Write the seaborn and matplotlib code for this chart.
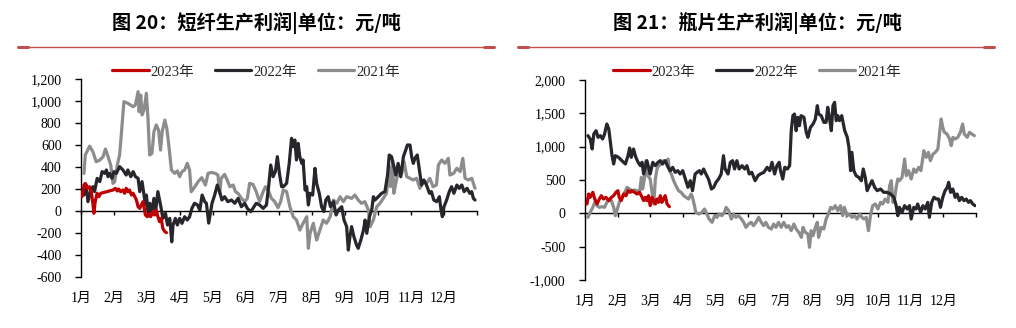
import numpy as np
import pandas as pd
import matplotlib
matplotlib.use("Agg")
import matplotlib.pyplot as plt
from matplotlib.lines import Line2D
from matplotlib.ticker import FuncFormatter
import seaborn as sns

# ---- data: (month position within the year, profit in 元/吨) ----
month_labels = ["1月", "2月", "3月", "4月", "5月", "6月",
                "7月", "8月", "9月", "10月", "11月", "12月"]
years = ["2023年", "2022年", "2021年"]
colors = {"2023年": "#C00000", "2022年": "#26262B", "2021年": "#8C8C8C"}

# 短纤 (polyester staple fibre) production profit
psf_2023 = [(0.03, 130), (0.09, 236), (0.13, 251), (0.19, 206), (0.26, 221), (0.31, 176),
            (0.36, 70), (0.39, -21), (0.43, 85), (0.49, 161), (0.54, 130), (0.60, 161),
            (0.97, 191), (1.04, 206), (1.10, 182), (1.14, 200), (1.20, 176), (1.27, 191),
            (1.32, 161), (1.37, 206), (1.42, 176), (1.47, 191), (1.53, 145), (1.58, 161),
            (1.63, 130), (1.68, 100), (1.73, 39), (1.78, 24), (1.83, 55), (1.88, 85),
            (1.91, 39), (1.95, -36), (2.01, -52), (2.06, -21), (2.11, -52), (2.18, -6),
            (2.23, -36), (2.28, 9), (2.33, -52), (2.38, -97), (2.43, -67), (2.48, -158),
            (2.54, -188), (2.59, -197)]

psf_2022 = [(0.09, 145), (0.16, 236), (0.21, 85), (0.29, 176), (0.36, 221), (0.41, 176),
            (0.49, 297), (0.57, 267), (0.64, 358), (0.72, 342), (0.77, 373), (0.82, 312),
            (0.87, 342), (0.94, 297), (1.00, 358), (1.07, 342), (1.17, 403), (1.27, 373),
            (1.37, 327), (1.42, 373), (1.51, 312), (1.58, 358), (1.65, 312), (1.73, 297),
            (1.78, 176), (1.85, 267), (1.91, 145), (1.95, 55), (1.98, 145), (2.03, 9),
            (2.08, 70), (2.13, -21), (2.21, 115), (2.26, -6), (2.33, 176), (2.38, 100),
            (2.43, 24), (2.48, -67), (2.56, -21), (2.62, -127), (2.69, -67), (2.75, -280),
            (2.79, -127), (2.86, -67), (2.92, -127), (2.99, -67), (3.06, -112), (3.14, -52),
            (3.22, -82), (3.29, -52), (3.36, 24), (3.44, 70), (3.53, 55), (3.60, 9),
            (3.67, 145), (3.75, 85), (3.80, 70), (3.87, -110), (3.97, 70), (4.05, 145),
            (4.13, 236), (4.20, 176), (4.27, 100), (4.35, 130), (4.45, 85), (4.56, 100),
            (4.66, 70), (4.76, 115), (4.86, 39), (4.96, 70), (5.04, 24), (5.14, -6),
            (5.21, 24), (5.31, 70), (5.41, 55), (5.52, 24), (5.62, 55), (5.69, 236),
            (5.75, 418), (5.82, 312), (5.89, 358), (5.95, 494), (6.02, 327), (6.08, 221),
            (6.13, 221), (6.23, 251), (6.31, 433), (6.38, 661), (6.43, 585), (6.48, 645),
            (6.53, 464), (6.58, 615), (6.63, 494), (6.69, 433), (6.73, 464), (6.79, 191),
            (6.84, 221), (6.89, 55), (6.94, 161), (7.02, 145), (7.09, 388), (7.14, 251),
            (7.22, 161), (7.29, 39), (7.36, -6), (7.42, 100), (7.49, 130), (7.56, 39),
            (7.65, 85), (7.73, -36), (7.80, 9), (7.90, 39), (7.97, -82), (8.05, -142),
            (8.10, -355), (8.15, -233), (8.20, -142), (8.27, -233), (8.35, -309), (8.40, -339),
            (8.48, -264), (8.56, -173), (8.61, -82), (8.66, -203), (8.74, -52), (8.81, 9),
            (8.86, 130), (8.91, 100), (9.01, 130), (9.11, 161), (9.21, 176), (9.29, 327),
            (9.34, 509), (9.41, 494), (9.48, 403), (9.54, 327), (9.61, 433), (9.69, 312),
            (9.77, 494), (9.84, 554), (9.89, 600), (9.97, 600), (10.02, 494), (10.07, 433),
            (10.12, 479), (10.19, 509), (10.27, 342), (10.32, 236), (10.39, 282), (10.47, 236),
            (10.56, 161), (10.62, 176), (10.69, 100), (10.78, 85), (10.86, 130), (10.91, 9),
            (10.95, -52), (11.00, 39), (11.08, 100), (11.16, 176), (11.23, 221), (11.30, 161),
            (11.39, 236), (11.46, 206), (11.54, 236), (11.61, 176), (11.70, 206), (11.78, 161),
            (11.84, 176), (11.89, 115), (11.94, 100)]

psf_2021 = [(0.09, 342), (0.13, 509), (0.26, 590), (0.36, 539), (0.46, 448), (0.57, 463),
            (0.67, 494), (0.74, 563), (0.82, 494), (0.90, 418), (0.97, 251), (1.02, 266),
            (1.10, 418), (1.17, 509), (1.22, 690), (1.30, 994), (1.42, 979), (1.58, 948),
            (1.65, 964), (1.73, 1085), (1.76, 903), (1.81, 1054), (1.85, 873), (1.91, 918),
            (1.98, 1070), (2.03, 842), (2.08, 509), (2.15, 524), (2.21, 721), (2.28, 782),
            (2.35, 736), (2.41, 554), (2.46, 721), (2.54, 827), (2.60, 751), (2.66, 600),
            (2.74, 373), (2.84, 342), (2.92, 364), (2.99, 312), (3.06, 358), (3.14, 373),
            (3.22, 433), (3.29, 373), (3.34, 176), (3.42, 206), (3.55, 267), (3.66, 303),
            (3.77, 236), (3.85, 342), (3.95, 351), (4.07, 342), (4.15, 327), (4.20, 160),
            (4.25, 297), (4.35, 333), (4.43, 282), (4.51, 221), (4.61, 236), (4.68, 176),
            (4.76, 160), (4.86, 115), (4.96, 85), (5.04, 115), (5.11, 251), (5.21, 242),
            (5.31, 176), (5.41, 85), (5.52, 176), (5.59, 221), (5.69, 176), (5.77, 115),
            (5.87, 85), (5.97, 30), (6.05, 85), (6.13, 191), (6.23, 176), (6.33, 39),
            (6.43, -52), (6.53, -82), (6.63, -173), (6.73, -112), (6.84, -52), (6.89, -339),
            (6.94, -203), (7.04, -112), (7.14, -264), (7.24, -173), (7.34, -82), (7.44, -112),
            (7.55, -52), (7.65, 100), (7.75, 70), (7.85, 130), (7.95, 85), (8.05, 130),
            (8.20, 115), (8.30, 145), (8.40, 100), (8.50, 70), (8.60, 85), (8.71, 9),
            (8.76, -142), (8.86, -82), (8.96, 39), (9.06, 70), (9.16, 115), (9.26, 161),
            (9.34, 403), (9.38, 221), (9.44, 464), (9.48, 161), (9.56, 282), (9.64, 388),
            (9.72, 342), (9.79, 448), (9.87, 312), (9.97, 297), (10.07, 282), (10.17, 297),
            (10.27, 206), (10.37, 267), (10.47, 251), (10.57, 297), (10.67, 221), (10.77, 236),
            (10.83, 418), (10.93, 464), (11.03, 433), (11.13, 479), (11.18, 327), (11.29, 342),
            (11.39, 388), (11.49, 358), (11.57, 479), (11.64, 297), (11.74, 282), (11.84, 297),
            (11.94, 206)]

# 瓶片 (PET bottle chip) production profit
bottle_2023 = [(0.06, 140), (0.11, 290), (0.16, 240), (0.24, 315), (0.30, 215), (0.37, 140),
               (0.44, 215), (0.50, 265), (0.57, 215), (0.64, 240), (0.73, 190), (0.81, 240),
               (0.88, 265), (0.95, 315), (1.01, 340), (1.05, 240), (1.11, 190), (1.19, 290),
               (1.26, 265), (1.32, 340), (1.39, 315), (1.44, 340), (1.52, 315), (1.60, 290),
               (1.67, 315), (1.73, 265), (1.80, 190), (1.85, 240), (1.90, 190), (1.95, 265),
               (2.00, 115), (2.06, 240), (2.11, 190), (2.16, 140), (2.21, 215), (2.26, 165),
               (2.31, 265), (2.36, 165), (2.41, 215), (2.46, 265), (2.52, 140), (2.59, 100)]

bottle_2022 = [(0.09, 1165), (0.16, 1115), (0.22, 965), (0.27, 1190), (0.34, 1240), (0.40, 1140),
               (0.47, 1165), (0.54, 1115), (0.60, 1190), (0.67, 1340), (0.73, 1265), (0.78, 1065),
               (0.83, 865), (0.88, 740), (0.93, 865), (1.03, 840), (1.13, 790), (1.24, 740),
               (1.32, 865), (1.37, 980), (1.42, 840), (1.49, 965), (1.56, 840), (1.63, 765),
               (1.70, 715), (1.75, 765), (1.80, 590), (1.85, 690), (1.90, 790), (1.95, 690),
               (2.00, 590), (2.08, 765), (2.16, 715), (2.24, 765), (2.31, 790), (2.38, 740),
               (2.46, 790), (2.55, 690), (2.62, 640), (2.69, 690), (2.77, 615), (2.85, 640),
               (2.92, 590), (3.00, 640), (3.08, 515), (3.16, 390), (3.23, 490), (3.30, 340),
               (3.38, 590), (3.44, 615), (3.51, 640), (3.57, 590), (3.64, 665), (3.71, 590),
               (3.79, 515), (3.88, 365), (3.95, 390), (4.02, 465), (4.10, 515), (4.18, 590),
               (4.25, 865), (4.30, 665), (4.39, 590), (4.46, 765), (4.53, 790), (4.59, 665),
               (4.66, 790), (4.73, 665), (4.82, 715), (4.90, 665), (4.97, 715), (5.04, 590),
               (5.12, 615), (5.22, 490), (5.31, 565), (5.38, 590), (5.49, 615), (5.59, 690),
               (5.67, 640), (5.74, 765), (5.82, 590), (5.89, 715), (5.96, 765), (6.00, 640),
               (6.07, 515), (6.13, 690), (6.21, 665), (6.28, 715), (6.33, 1240), (6.38, 1465),
               (6.43, 1490), (6.48, 1240), (6.53, 1440), (6.58, 1315), (6.63, 1465), (6.72, 1440),
               (6.79, 1215), (6.84, 1140), (6.92, 1290), (7.00, 1340), (7.07, 1415), (7.13, 1615),
               (7.17, 1490), (7.25, 1465), (7.33, 1365), (7.40, 1365), (7.45, 1590), (7.50, 1440),
               (7.56, 1240), (7.61, 1615), (7.66, 1665), (7.71, 1390), (7.76, 1465), (7.81, 1390),
               (7.88, 1465), (7.97, 1240), (8.05, 1140), (8.10, 990), (8.15, 640), (8.19, 915),
               (8.25, 640), (8.32, 565), (8.40, 540), (8.48, 490), (8.54, 665), (8.60, 540),
               (8.66, 340), (8.73, 415), (8.81, 490), (8.89, 390), (8.97, 340), (9.07, 365),
               (9.17, 315), (9.27, 315), (9.38, 290), (9.48, 240), (9.55, 115), (9.60, -35),
               (9.65, 90), (9.73, 15), (9.81, 115), (9.89, 65), (9.96, 115), (10.01, -85),
               (10.09, 90), (10.16, 65), (10.21, 140), (10.30, 15), (10.37, 115), (10.44, 65),
               (10.52, 165), (10.57, -60), (10.64, 165), (10.71, 240), (10.78, 215), (10.85, 215),
               (10.91, 90), (10.98, 240), (11.05, 340), (11.12, 390), (11.16, 465), (11.22, 315),
               (11.29, 365), (11.36, 240), (11.42, 290), (11.49, 190), (11.56, 240), (11.63, 190),
               (11.70, 215), (11.77, 165), (11.83, 190), (11.90, 140), (11.97, 115)]

bottle_2021 = [(0.09, -60), (0.16, 15), (0.24, 90), (0.32, 190), (0.37, 115), (0.44, 90),
               (0.52, 100), (0.60, 90), (0.67, 165), (0.75, 215), (0.81, 190), (0.88, 90),
               (0.93, -35), (0.98, 40), (1.05, 165), (1.13, 240), (1.22, 315), (1.29, 390),
               (1.36, 365), (1.44, 340), (1.52, 350), (1.60, 340), (1.67, 290), (1.73, 540),
               (1.77, 365), (1.83, 540), (1.87, 790), (1.93, 565), (2.00, 515), (2.05, 340),
               (2.11, 140), (2.16, 515), (2.21, 665), (2.26, 715), (2.34, 740), (2.41, 790),
               (2.48, 765), (2.55, 815), (2.59, 640), (2.65, 590), (2.72, 490), (2.79, 415),
               (2.87, 340), (2.95, 315), (3.03, 265), (3.10, 240), (3.18, 215), (3.26, 290),
               (3.30, 240), (3.36, 115), (3.40, 15), (3.49, -10), (3.59, 15), (3.67, 65),
               (3.74, -10), (3.81, -85), (3.90, -135), (3.98, -35), (4.05, -60), (4.12, -10),
               (4.20, -35), (4.28, 15), (4.33, 90), (4.41, 40), (4.49, -85), (4.56, -10),
               (4.63, -60), (4.71, -35), (4.80, -85), (4.87, -135), (4.94, -210), (5.02, -160),
               (5.10, -135), (5.17, -185), (5.25, -135), (5.33, -60), (5.41, -135), (5.48, -185),
               (5.55, -135), (5.63, -210), (5.72, -235), (5.79, -160), (5.86, -210), (5.94, -135),
               (6.02, -210), (6.10, -135), (6.18, -210), (6.25, -185), (6.33, -260), (6.41, -160),
               (6.48, -235), (6.56, -285), (6.64, -360), (6.69, -210), (6.76, -285), (6.84, -310),
               (6.89, -510), (6.94, -260), (7.00, -335), (7.07, -210), (7.13, -135), (7.17, -360),
               (7.25, -210), (7.33, -235), (7.40, -85), (7.47, -10), (7.54, 90), (7.61, 65),
               (7.68, 115), (7.76, 40), (7.84, 115), (7.91, -35), (7.96, 90), (8.05, -35),
               (8.12, -10), (8.19, -60), (8.27, -35), (8.35, -85), (8.43, -10), (8.50, -60),
               (8.56, -85), (8.63, -60), (8.70, -260), (8.76, -35), (8.83, 115), (8.91, 140),
               (8.99, 65), (9.07, 165), (9.14, 140), (9.21, 215), (9.30, 165), (9.35, 415),
               (9.40, 490), (9.45, 165), (9.50, 215), (9.55, 390), (9.60, 515), (9.65, 490),
               (9.73, 540), (9.81, 815), (9.86, 565), (9.93, 640), (10.01, 515), (10.09, 665),
               (10.16, 615), (10.24, 690), (10.31, 640), (10.40, 940), (10.47, 840), (10.54, 915),
               (10.60, 790), (10.68, 890), (10.75, 915), (10.83, 965), (10.88, 1190), (10.93, 1415),
               (10.98, 1290), (11.03, 1215), (11.11, 1190), (11.19, 1115), (11.24, 1015), (11.29, 1140),
               (11.36, 1115), (11.44, 1140), (11.52, 1215), (11.59, 1340), (11.64, 1190), (11.73, 1140),
               (11.80, 1215), (11.87, 1190), (11.95, 1165)]


def to_frame(series):
    rows = [(year, m, v) for year, pts in series.items() for m, v in pts]
    return pd.DataFrame(rows, columns=["year", "month", "profit"])


sns.set_theme(style="ticks")
plt.rcParams["font.family"] = ["Liberation Serif", "Noto Sans CJK SC", "DejaVu Sans"]
plt.rcParams["axes.unicode_minus"] = False

SERIF = ["Liberation Serif", "Noto Sans CJK SC"]
TITLE_FONT = ["Noto Sans CJK SC", "DejaVu Sans"]

W, H = 1016, 328
fig = plt.figure(figsize=(W / 100, H / 100), dpi=100)


def fx(px):
    return px / W


def fy(py):
    return 1 - py / H


panels = [
    dict(title="图 20：短纤生产利润|单位：元/吨",
         data={"2021年": psf_2021, "2022年": psf_2022, "2023年": psf_2023},
         ylim=(-600, 1200), step=200, box=(81, 79, 477, 277),
         center=256, rule=(18, 494)),
    dict(title="图 21：瓶片生产利润|单位：元/吨",
         data={"2021年": bottle_2021, "2022年": bottle_2022, "2023年": bottle_2023},
         ylim=(-1000, 2000), step=500, box=(585, 80, 976, 280),
         center=757, rule=(518, 994)),
]

for p in panels:
    x0, y0, x1, y1 = p["box"]
    ax = fig.add_axes([fx(x0), fy(y1), fx(x1) - fx(x0), fy(y0) - fy(y1)])
    df = to_frame(p["data"])
    sns.lineplot(data=df, x="month", y="profit", hue="year",
                 hue_order=["2021年", "2022年", "2023年"], palette=colors,
                 estimator=None, sort=False, linewidth=2.3, legend=False,
                 ax=ax, zorder=3)

    lo, hi = p["ylim"]
    ax.set_xlim(0, 12)
    ax.set_ylim(lo, hi)
    ax.set_xlabel("")
    ax.set_ylabel("")
    ax.set_yticks(np.arange(lo, hi + 1, p["step"]))
    ax.yaxis.set_major_formatter(FuncFormatter(lambda v, _: f"{v:,.0f}"))

    for side in ("top", "right"):
        ax.spines[side].set_visible(False)
    ax.spines["left"].set_color("black")
    ax.spines["left"].set_linewidth(1.0)
    ax.spines["bottom"].set_position(("data", 0))
    ax.spines["bottom"].set_color("black")
    ax.spines["bottom"].set_linewidth(1.0)

    ax.set_xticks(range(13))
    ax.tick_params(axis="x", bottom=True, length=3, width=1, color="black",
                   direction="out", labelbottom=False)
    ax.tick_params(axis="y", left=True, length=4, width=1, color="black",
                   direction="out", pad=10, labelsize=10, labelcolor="black")
    for lab in ax.get_yticklabels():
        lab.set_family(SERIF)

    # month names sit along the bottom edge of the panel
    sec = ax.secondary_xaxis("bottom")
    sec.set_xticks(range(12), labels=month_labels)
    sec.tick_params(length=0, pad=11, labelsize=10, labelcolor="black")
    sec.spines["bottom"].set_visible(False)
    for lab in sec.get_xticklabels():
        lab.set_family(SERIF)

    handles = [Line2D([], [], color=colors[y], linewidth=2.3) for y in years]
    fig.legend(handles, years, loc="center", ncol=3, frameon=False,
               bbox_to_anchor=(fx(p["center"]), fy(72)),
               handlelength=2.5, handletextpad=0.15, columnspacing=1.4,
               prop={"family": SERIF, "size": 10.5})

    fig.text(fx(p["center"]), fy(23), p["title"], ha="center", va="center",
             fontsize=13.8, fontweight="bold", family=TITLE_FONT, color="black")

    r0, r1 = p["rule"]
    rule_color = "#C0504D"
    fig.add_artist(Line2D([fx(r0), fx(r1)], [fy(47), fy(47)],
                          transform=fig.transFigure, color=rule_color, linewidth=1.0))
    for a, b in ((r0, r0 + 10), (r1 - 10, r1)):
        fig.add_artist(Line2D([fx(a), fx(b)], [fy(47), fy(47)],
                              transform=fig.transFigure, color=rule_color, linewidth=2.2))

fig.savefig("out.png", dpi=100, facecolor="white")
